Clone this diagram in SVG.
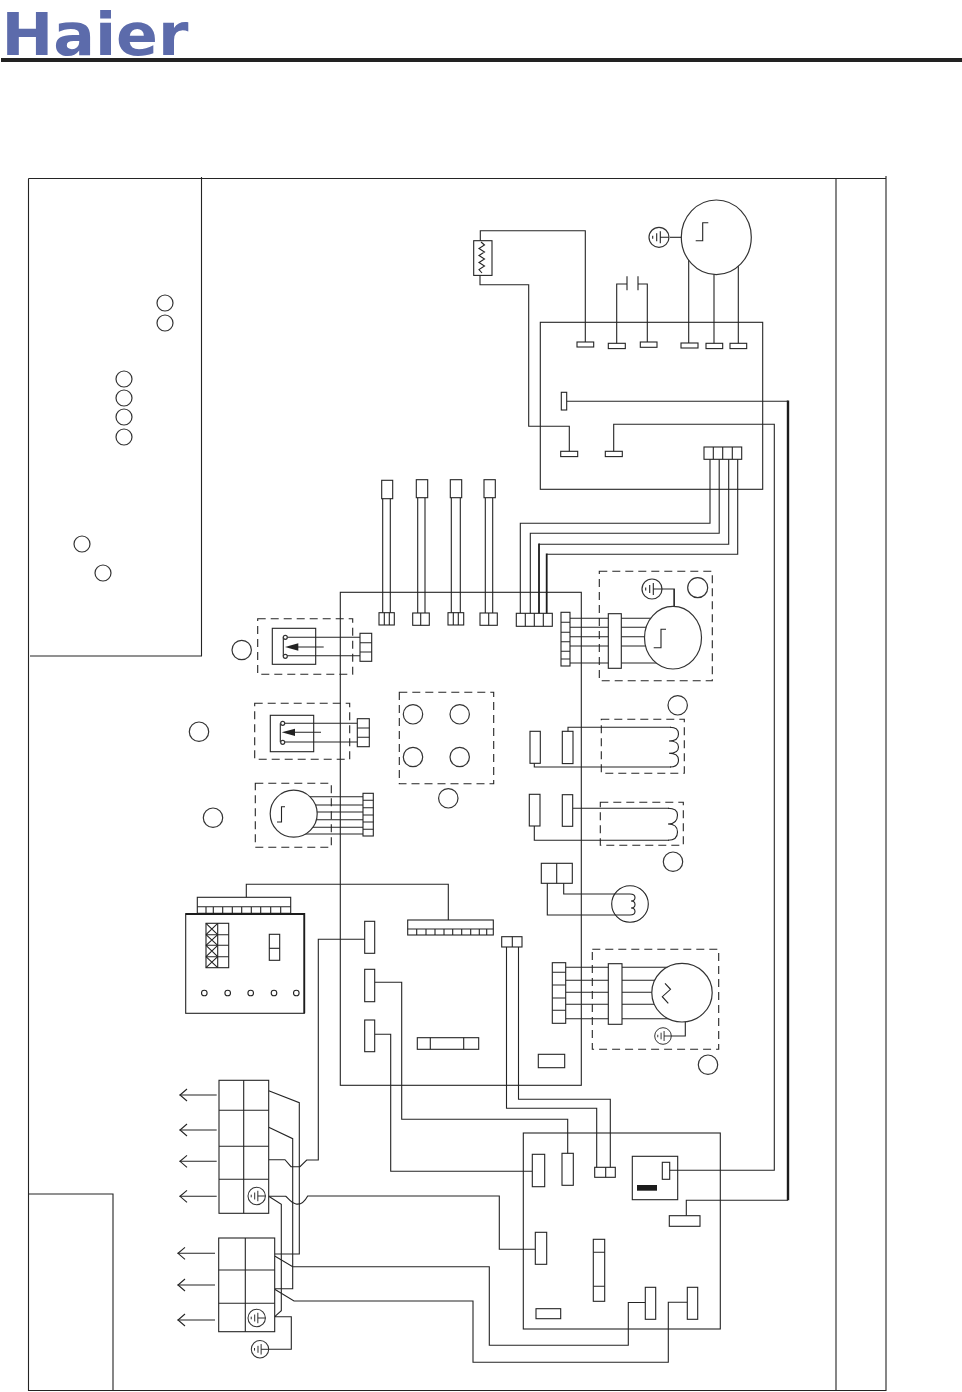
<svg xmlns="http://www.w3.org/2000/svg" xmlns:xlink="http://www.w3.org/1999/xlink" width="962" height="1392" viewBox="0 0 962 1392">
<style>
.l{fill:none;stroke:#242424;stroke-width:1.1}
.t{fill:none;stroke:#1c1c1c;stroke-width:2.4}
.m{fill:none;stroke:#1c1c1c;stroke-width:1.8}
.b{fill:#fff;stroke:#242424;stroke-width:1.1}
.c{fill:#fff;stroke:#333;stroke-width:1.2}
.d{fill:none;stroke:#242424;stroke-width:1.1;stroke-dasharray:8 5}
.logo{font-family:"DejaVu Sans",sans-serif;font-weight:700;fill:#5c6bab}
</style>
<defs>
<g id="gnd"><circle class="c" r="10"/><path class="l" d="M1.3 0H10M1.3-6V6M-2.3-4V4M-6.3-1.5V1.5"/></g>
<marker id="open" markerWidth="12" markerHeight="14" refX="9" refY="7" orient="auto" markerUnits="userSpaceOnUse"><path class="l" d="M1.5 1L8.5 7L1.5 13"/></marker>
</defs>
<rect width="962" height="1392" fill="#fff"/>

<g id="header">
<text class="logo" x="1.5" y="55" font-size="58" textLength="187" lengthAdjust="spacingAndGlyphs">Haier</text>
<rect x="1" y="58" width="961" height="4" fill="#222"/>
</g>

<g id="frame">
<path class="l" d="M28.5 178.5H886M28.5 178.5V1390.5H886M836 178.5V1390.5M886 176V1391M201.5 177V656H30M28.5 1194H113V1390"/>
</g>

<g id="boards">
<rect id="board-top" class="l" x="540.3" y="322.3" width="222.4" height="167"/>
<rect id="board-main" class="l" x="340.3" y="592.3" width="241" height="493"/>
<rect id="board-bottom" class="l" x="523.3" y="1133" width="197" height="196"/>
</g>

<g id="connectors">
<path class="l" d="M480.3 241V230.7H585.3V343"/>
<path class="l" d="M480 275V284.7H528.7V426.3H569.3V452"/>
<path class="l" d="M616.7 344V284H627M638 284H647.3V343"/>
<path class="l" d="M688.7 255V344M714 265V344M738.3 255V344"/>
<path class="l" d="M566.7 401.3H788"/>
<path class="l" d="M613.7 452V424.3H774.3V1170.3H668.3"/>
<path class="t" d="M788 400.5V1200.3"/>
<path class="l" d="M788 1200.3H686.3V1216"/>
<path class="l" d="M710 459V523.3H520.3V614M719.2 459V533.3H530.3V614"/>
<path class="l" d="M539 544.3H728.7V459M546.7 554.3H737.7V459"/>
<path class="m" d="M539 543.5V614M546.7 553.5V614"/>
<path class="l" d="M382.7 498V613M390.3 498V613M417.7 498V613M425 498V613M451.3 498V613M460.3 498V613M485.3 498V613M492.7 498V613"/>
<path class="l" d="M285.3 637.3H360M285.3 655.8H360M282.7 723.3H357.3M282.7 742H357.3"/>
<path class="l" d="M293.7 796.7H363M293.7 805H363M293.7 812H363M293.7 819.7H363M293.7 827.3H363M293.7 834H363"/>
<path class="l" d="M570 618.3H673M570 627.3H673M570 636.7H673M570 646H673M570 663H673"/>
<path class="l" d="M652 589H674.3V607"/>
<path class="l" d="M568 732V727.3H671M534.3 763V767H671"/>
<path class="l" d="M572.7 808.3H669M534.3 826V840.3H669"/>
<path class="l" d="M547.3 883V915H630M563.7 883V894H630"/>
<path class="l" d="M565.7 967.3H682M565.7 980.3H682M565.7 992.3H682M565.7 1004.3H682M565.7 1018.7H682"/>
<path class="l" d="M663 1036H685.3V1020"/>
<path class="l" d="M246.3 898V884.3H448.3V920"/>
<path class="l" d="M506.5 947V1108.3H596.7V1168M518.5 947V1099.3H610.3V1168"/>
<path class="l" d="M364.7 939.3H318.3V1160H306.7L300 1166.7H291L285 1159.7H268.7"/>
<path class="l" d="M374.7 982.3H401.7V1119.3H567.7V1154"/>
<path class="l" d="M374.7 1034.3H390.7V1171.2H532.3"/>
<path class="l" d="M268.7 1090.7L299.3 1102.7V1254H274.7"/>
<path class="l" d="M268.7 1127.3L292.7 1138.7V1288.7H274.7"/>
<path class="l" d="M268.7 1196.3H285.7C288 1198 291 1203 296 1204C301 1205 305 1201 307.7 1196H499.3V1249.3H535.3"/>
<path class="l" d="M268.7 1196.3L281.3 1204.3V1310.7L274.7 1316.7H291.3V1349.3H260"/>
<path class="l" d="M274.7 1256L292.7 1266.7H489.3V1345.2H628.3V1302.5H645.3"/>
<path class="l" d="M274.7 1289.3L294 1301H473V1362.3H668.3V1302.3H687.3"/>
<path class="l" marker-end="url(#open)" d="M216.7 1095H179.5"/>
<path class="l" marker-end="url(#open)" d="M216.7 1130H179.5"/>
<path class="l" marker-end="url(#open)" d="M216.7 1161.3H179.5"/>
<path class="l" marker-end="url(#open)" d="M216.7 1196.3H179.5"/>
<path class="l" marker-end="url(#open)" d="M215 1253.3H177.5"/>
<path class="l" marker-end="url(#open)" d="M215 1285H177.5"/>
<path class="l" marker-end="url(#open)" d="M215 1320H177.5"/>
</g>

<g id="heater">
<rect class="b" x="473.7" y="240.7" width="18.3" height="34.7"/>
<path class="l" d="M481 242L484.5 245L479 248.5L484.5 252L479 255.5L484.5 259L479 262.5L484.5 266L479 269.5L482 273"/>
</g>
<g id="capacitor"><path class="l" d="M627 276.3V290.3M638 276.3V290.3"/></g>
<g id="motor-top">
<ellipse class="c" cx="716.3" cy="237.3" rx="35" ry="37.3"/>
<path class="l" d="M695.7 240.7H702.7V222.7H708.3"/>
<path class="l" d="M670 237.3H681.3"/>
<use xlink:href="#gnd" href="#gnd" x="659" y="237.3"/>
</g>
<g id="top-terminals">
<rect class="b" x="577" y="342" width="16.7" height="5"/>
<rect class="b" x="608.3" y="343.3" width="17" height="5.3"/>
<rect class="b" x="640.3" y="342" width="16.7" height="5.3"/>
<rect class="b" x="681" y="343" width="17" height="5"/>
<rect class="b" x="706" y="343.3" width="16.7" height="5.3"/>
<rect class="b" x="730" y="343.3" width="16.7" height="5.3"/>
<rect class="b" x="561.3" y="392.3" width="5.4" height="17.7"/>
<rect class="b" x="560.7" y="451.3" width="17" height="5.3"/>
<rect class="b" x="605.3" y="451.3" width="17" height="5.3"/>
<rect class="b" x="704" y="447" width="37.7" height="12.3"/>
<path class="l" d="M713.3 447V459.3M722.7 447V459.3M732.3 447V459.3"/>
</g>

<g id="main-connectors-top">
<rect class="b" x="381.7" y="480.3" width="11" height="18.4"/>
<rect class="b" x="416.3" y="479.7" width="11.4" height="18"/>
<rect class="b" x="450.3" y="479.7" width="11.4" height="18"/>
<rect class="b" x="484" y="479.7" width="11.3" height="18"/>
<rect class="b" x="379" y="612.7" width="15.3" height="12.3"/>
<path class="l" d="M384.3 612.7V625M389.3 612.7V625"/>
<rect class="b" x="412.7" y="613" width="16.6" height="12.3"/>
<path class="l" d="M420.7 613V625.3"/>
<rect class="b" x="448" y="612.7" width="15.7" height="12.3"/>
<path class="l" d="M453.3 612.7V625M458.3 612.7V625"/>
<rect class="b" x="480" y="613" width="17.3" height="12.3"/>
<path class="l" d="M488.7 613V625.3"/>
<rect class="b" x="516.3" y="613.3" width="36" height="13"/>
<path class="l" d="M525.3 613.3V626.3M534.3 613.3V626.3M543.3 613.3V626.3"/>
</g>

<g id="motor-right">
<path class="d" d="M599.3 571.3H712.3V680.7H599.3Z"/>
<rect class="b" x="561" y="612.3" width="9" height="53.7"/>
<path class="l" d="M561 622.3H570M561 632.3H570M561 641.7H570M561 651.3H570M561 659H570"/>
<rect class="b" x="608.3" y="613.7" width="13" height="54.6"/>
<ellipse class="c" cx="673" cy="637.7" rx="28.5" ry="31.3"/>
<path class="l" d="M653.7 647.7H661V629.3H666"/>
<path class="l" d="M674 589V606"/>
<use xlink:href="#gnd" href="#gnd" x="652" y="589"/>
<circle class="c" cx="697.7" cy="587.7" r="10"/>
</g>

<g id="sensor-1">
<path class="d" d="M257.7 618.7H352.7V674.3H257.7Z"/>
<rect class="l" x="272.3" y="628.3" width="43.4" height="36"/>
<path class="l" d="M283.3 637.3V656.3M298 647H323.7"/>
<circle class="c" cx="285.3" cy="637.3" r="2"/><circle class="c" cx="285.3" cy="656.3" r="2"/>
<path d="M285 647L298.3 643.3V650.7Z" fill="#222"/>
<rect class="b" x="360" y="633.3" width="11.7" height="28"/>
<path class="l" d="M360 642.7H371.7M360 652H371.7"/>
<circle class="c" cx="241.7" cy="650" r="9.7"/>
</g>
<g id="sensor-2">
<path class="d" d="M254.7 703.3H349.7V759.3H254.7Z"/>
<rect class="l" x="270.3" y="715.3" width="43.4" height="36.4"/>
<path class="l" d="M280.3 723.3V742.3M295 732.3H321"/>
<circle class="c" cx="282.7" cy="723.3" r="2"/><circle class="c" cx="282.7" cy="742.3" r="2"/>
<path d="M281.7 732.3L295 728.7V736Z" fill="#222"/>
<rect class="b" x="357.3" y="718.7" width="12" height="28"/>
<path class="l" d="M357.3 728H369.3M357.3 737.3H369.3"/>
<circle class="c" cx="199" cy="731.7" r="9.7"/>
</g>
<g id="motor-left">
<path class="d" d="M255.3 783.3H331.3V847.3H255.3Z"/>
<circle class="c" cx="293.7" cy="813.7" r="23.5"/>
<path class="l" d="M277 822H281.5V806.7H285"/>
<rect class="b" x="363" y="793.3" width="10.3" height="42.7"/>
<path class="l" d="M363 800.3H373.3M363 807.7H373.3M363 815H373.3M363 822H373.3M363 829.3H373.3"/>
<circle class="c" cx="213" cy="817.7" r="9.7"/>
</g>
<g id="indicators">
<path class="d" d="M399.3 692.3H493.7V783.7H399.3Z"/>
<circle class="c" cx="413" cy="714.3" r="9.7"/><circle class="c" cx="459.7" cy="714.3" r="9.7"/>
<circle class="c" cx="413" cy="757" r="9.7"/><circle class="c" cx="459.7" cy="757" r="9.7"/>
<circle class="c" cx="448.3" cy="798.3" r="9.7"/>
</g>
<g id="coil-1">
<path class="d" d="M601.3 719.3H684.3V773.3H601.3Z"/>
<rect class="b" x="530" y="731.3" width="10.3" height="32"/>
<rect class="b" x="562.3" y="731.3" width="10.7" height="32.3"/>
<path class="l" d="M670 727.3Q678.5 727.3 678.5 734Q678.5 741 669 741Q678.5 741 678.5 747Q678.5 753.3 669 753.3Q678.5 753.3 678.5 760Q678.5 767 670 767"/>
<circle class="c" cx="677.7" cy="705.3" r="9.7"/>
</g>
<g id="coil-2">
<path class="d" d="M600.3 802.3H683.3V845.3H600.3Z"/>
<rect class="b" x="529.3" y="794.3" width="10.7" height="31.7"/>
<rect class="b" x="562.3" y="794.7" width="10.4" height="31.6"/>
<path class="l" d="M668 808.3Q677.5 808.3 677.5 815Q677.5 824 668 824Q677.5 824 677.5 832Q677.5 840.3 668 840.3"/>
<circle class="c" cx="673" cy="861.7" r="9.7"/>
</g>
<g id="valve">
<rect class="b" x="541.3" y="863.3" width="31" height="20"/>
<path class="l" d="M556.7 863.3V883.3"/>
<circle class="l" cx="630" cy="904" r="18.3"/>
<path class="l" d="M630 894Q635 894 635 897.5Q635 901 631 901Q635 901 635 904.5Q635 908 631 908Q635 908 635 911.5Q635 915 630 915"/>
</g>
<g id="motor-fan">
<path class="d" d="M592.3 949.3H718.7V1049.3H592.3Z"/>
<rect class="b" x="552.3" y="962.7" width="13.4" height="60.6"/>
<path class="l" d="M552.3 972.3H565.7M552.3 985H565.7M552.3 998H565.7M552.3 1010.3H565.7"/>
<rect class="b" x="608.3" y="963.7" width="13.7" height="60.6"/>
<ellipse class="c" cx="682" cy="992.7" rx="30.2" ry="29.3"/>
<path class="l" d="M665 983.3L670.5 989.3L662.3 996.7L668.3 1003.3"/>
<use xlink:href="#gnd" href="#gnd" transform="translate(663 1036) scale(.83)"/>
<circle class="c" cx="708" cy="1064.7" r="9.7"/>
</g>

<g id="display-board">
<rect class="b" x="197.3" y="897.3" width="93.4" height="16"/>
<path class="l" d="M197.3 906.7H290.7M206 906.7V913.3M213.3 906.7V913.3M222.7 906.7V913.3M232.3 906.7V913.3M241.7 906.7V913.3M251.3 906.7V913.3M260.7 906.7V913.3M270.7 906.7V913.3M280.7 906.7V913.3"/>
<rect class="b" x="185.7" y="913.7" width="118.6" height="99.6"/>
<path class="m" d="M185.7 914H304.3V1013.3"/>
<rect class="l" x="206" y="923.3" width="22.7" height="44.4"/>
<path class="l" d="M217.7 923.3V967.7M206 934.7H228.7M206 945.3H228.7M206 956.7H228.7"/>
<path class="l" d="M206 923.3L217.7 934.7M217.7 923.3L206 934.7M206 934.7L217.7 945.3M217.7 934.7L206 945.3M206 945.3L217.7 956.7M217.7 945.3L206 956.7M206 956.7L217.7 967.7M217.7 956.7L206 967.7"/>
<rect class="l" x="269.3" y="934.3" width="10.4" height="26"/>
<path class="l" d="M269.3 948.3H279.7"/>
<circle class="l" cx="204.3" cy="993" r="2.8"/><circle class="l" cx="227.7" cy="993" r="2.8"/><circle class="l" cx="250.7" cy="993" r="2.8"/><circle class="l" cx="274" cy="993" r="2.8"/><circle class="l" cx="296.3" cy="993" r="2.8"/>
</g>
<g id="main-parts">
<rect class="b" x="407.7" y="920" width="85.6" height="15"/>
<path class="l" d="M407.7 929H493.3M416.7 929V935M426 929V935M435 929V935M444 929V935M452.7 929V935M461.7 929V935M470.7 929V935M479.3 929V935M486.7 929V935"/>
<rect class="b" x="364.7" y="921.3" width="10" height="32"/>
<rect class="b" x="364.7" y="969.3" width="10" height="32.4"/>
<rect class="b" x="364.7" y="1020" width="10" height="31.7"/>
<rect class="l" x="417.3" y="1037.7" width="61.4" height="11.6"/>
<path class="l" d="M430.3 1037.7V1049.3M463.7 1037.7V1049.3"/>
<rect class="b" x="501.7" y="936.7" width="20.3" height="10.3"/>
<path class="l" d="M512.3 936.7V947"/>
<rect class="l" x="538.3" y="1054.3" width="26.4" height="13.4"/>
</g>

<g id="terminal-a">
<rect class="b" x="219" y="1080.3" width="49.7" height="133"/>
<path class="l" d="M243.7 1080.3V1213.3M219 1110.3H268.7M219 1146.3H268.7M219 1179.3H268.7"/>
<use xlink:href="#gnd" href="#gnd" transform="translate(256.7 1196) scale(.87)"/>
</g>
<g id="terminal-b">
<rect class="b" x="218.7" y="1238" width="56" height="93.7"/>
<path class="l" d="M245.3 1238V1331.7M218.7 1270H274.7M218.7 1303.3H274.7"/>
<use xlink:href="#gnd" href="#gnd" transform="translate(256.7 1318) scale(.87)"/>
</g>
<g id="ground-bottom"><use xlink:href="#gnd" href="#gnd" transform="translate(260 1349.3) scale(.87)"/></g>

<g id="power-board">
<rect class="b" x="532.3" y="1154.3" width="12.4" height="32.4"/>
<rect class="b" x="562" y="1153.3" width="11.3" height="32"/>
<rect class="b" x="594.7" y="1167.3" width="20.6" height="10"/>
<path class="l" d="M605.7 1167.3V1177.3"/>
<rect class="l" x="632.3" y="1156.3" width="45.4" height="43.4"/>
<rect class="b" x="662.3" y="1162.3" width="7.4" height="17"/>
<rect x="637" y="1185" width="20" height="5.7" fill="#1c1c1c"/>
<rect class="b" x="669.3" y="1215.7" width="30.7" height="10.6"/>
<rect class="b" x="535.3" y="1232.3" width="11.4" height="32"/>
<rect class="l" x="593.3" y="1239.3" width="11.4" height="62"/>
<path class="l" d="M593.3 1252.3H604.7M593.3 1286.3H604.7"/>
<rect class="b" x="645.3" y="1287.3" width="10.4" height="32"/>
<rect class="b" x="687.3" y="1287.3" width="10.4" height="32"/>
<rect class="l" x="536" y="1308.7" width="24.7" height="10"/>
</g>

<g id="legend-circles">
<circle class="c" cx="165" cy="303" r="8"/><circle class="c" cx="165" cy="323" r="8"/>
<circle class="c" cx="124" cy="379" r="8"/><circle class="c" cx="124" cy="398" r="8"/><circle class="c" cx="124" cy="417" r="8"/><circle class="c" cx="124" cy="437" r="8"/>
<circle class="c" cx="82" cy="544" r="8"/><circle class="c" cx="103" cy="573" r="8"/>
</g>
</svg>
